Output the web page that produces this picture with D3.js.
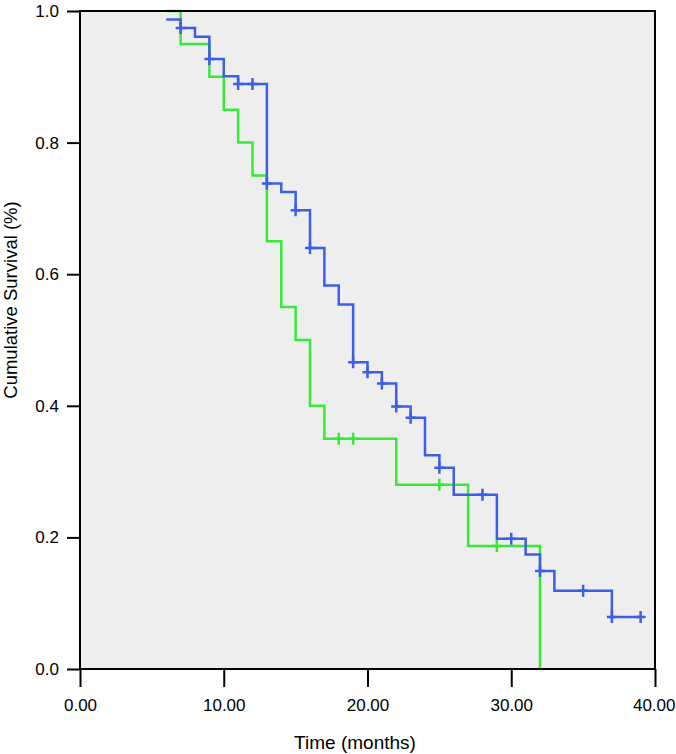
<html>
<head>
<script src="https://d3js.org/d3.v7.min.js"></script>
<style>
  body { margin: 0; background: #fff; }
  text { font-family: "Liberation Sans", Arial, Helvetica, sans-serif; fill: #000; }
  .axis path { display: none; }
  .axis line { stroke: #000; stroke-width: 2px; }
</style>
</head>
<body>
<svg id="chart"></svg>
<script>
// survival steps
var greenTimes = [6, 7, 9, 10, 11, 12, 13, 14, 15, 16, 17, 22, 27, 32];
var greenSurv  = [1.0, 0.95, 0.90, 0.85, 0.80, 0.75, 0.65, 0.55, 0.50, 0.40, 0.35, 0.28, 0.187, 0.0];
var greenCensor = [18, 19, 25, 29];

var blueTimes = [6, 7, 8, 9, 10, 11, 13, 14, 15, 16, 17, 18, 19, 20, 21, 22, 23, 24, 25, 26, 29, 31, 32, 33, 37];
var blueSurv  = [0.987, 0.974, 0.961, 0.927, 0.901, 0.889, 0.738, 0.725, 0.697, 0.640, 0.583, 0.554, 0.466, 0.451,
                 0.434, 0.399, 0.382, 0.325, 0.306, 0.265, 0.198, 0.174, 0.149, 0.119, 0.079];
var blueEnd = 39;
var blueCensor = [7, 9, 11, 12, 13, 15, 16, 19, 20, 21, 22, 23, 25, 28, 30, 32, 35, 37, 39];

var xTicks = [0, 10, 20, 30, 40];
var yTicks = [0, 0.2, 0.4, 0.6, 0.8, 1.0];

var W = 676, H = 754;
var m = { left: 80, top: 11, right: 21, bottom: 85 };

var svg = d3.select("#chart").attr("width", W).attr("height", H);

var x = d3.scaleLinear().domain([0, 40]).range([m.left, W - m.right]);
var y = d3.scaleLinear().domain([0, 1]).range([H - m.bottom, m.top]);

// plot background
svg.append("rect")
  .attr("x", x(0)).attr("y", y(1))
  .attr("width", x(40) - x(0)).attr("height", y(0) - y(1))
  .attr("fill", "#eeeeee");

function steps(times, surv, end) {
  var pts = times.map(function(t, i) { return [t, surv[i]]; });
  if (end != null) pts.push([end, surv[surv.length - 1]]);
  return pts;
}
function survAt(times, surv, t) {
  var v = surv[0];
  for (var i = 0; i < times.length; i++) { if (times[i] <= t) v = surv[i]; }
  return v;
}

var line = d3.line()
  .x(function(d) { return x(d[0]); })
  .y(function(d) { return y(d[1]); })
  .curve(d3.curveStepAfter);

function drawGroup(times, surv, end, censor, color) {
  var g = svg.append("g");
  g.append("path")
    .datum(steps(times, surv, end))
    .attr("d", line)
    .attr("fill", "none")
    .attr("stroke", color)
    .attr("stroke-width", 2.5);
  g.selectAll(".cens")
    .data(censor)
    .enter().append("path")
    .attr("class", "cens")
    .attr("d", function(t) {
      var cx = x(t), cy = y(survAt(times, surv, t));
      return "M" + (cx - 5) + "," + cy + "H" + (cx + 5) + "M" + cx + "," + (cy - 6) + "V" + (cy + 6);
    })
    .attr("fill", "none")
    .attr("stroke", color)
    .attr("stroke-width", 2.5);
}

drawGroup(greenTimes, greenSurv, null, greenCensor, "#38ea38");
drawGroup(blueTimes, blueSurv, blueEnd, blueCensor, "#3c5fe6");

// frame
svg.append("rect")
  .attr("x", x(0)).attr("y", y(1))
  .attr("width", x(40) - x(0)).attr("height", y(0) - y(1))
  .attr("fill", "none")
  .attr("stroke", "#000")
  .attr("stroke-width", 2);

// axes
var yAxis = svg.append("g")
  .attr("class", "axis")
  .attr("transform", "translate(" + x(0) + ",0)")
  .call(d3.axisLeft(y).tickValues(yTicks).tickFormat(d3.format(".1f")).tickSize(13).tickPadding(8));
yAxis.selectAll("text").style("font-size", "17px");

var xAxis = svg.append("g")
  .attr("class", "axis")
  .attr("transform", "translate(0," + y(0) + ")")
  .call(d3.axisBottom(x).tickValues(xTicks).tickFormat(d3.format(".2f")).tickSize(18).tickPadding(12));
xAxis.selectAll("text").style("font-size", "17px");
// last label is pushed in so it stays inside the page
xAxis.selectAll(".tick").filter(function(d) { return d === 40; }).select("text")
  .attr("text-anchor", "end").attr("x", W - 1 - x(40));

svg.append("text")
  .attr("x", 355).attr("y", 749)
  .attr("text-anchor", "middle")
  .style("font-size", "19px")
  .text("Time (months)");

svg.append("text")
  .attr("transform", "translate(17,300) rotate(-90)")
  .attr("text-anchor", "middle")
  .style("font-size", "18.5px")
  .text("Cumulative Survival (%)");
</script>
</body>
</html>
